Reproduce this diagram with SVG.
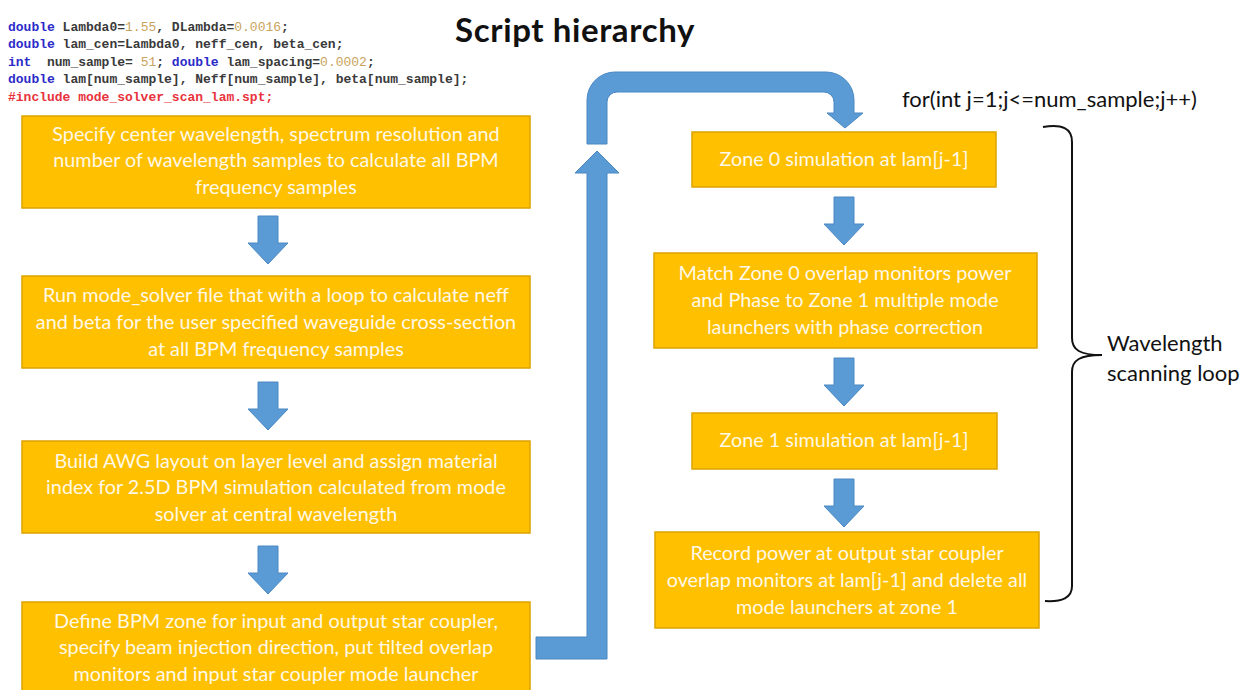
<svg xmlns="http://www.w3.org/2000/svg" width="1244" height="690" viewBox="0 0 1244 690">
  <style>
    .box { fill: #FFC000; stroke: #DDA300; stroke-width: 1.5; }
    .bt { font-family: Lato, "Open Sans", "Liberation Sans", sans-serif; font-size: 19.8px; fill: #FFF8E6; text-anchor: middle; }
    .arrow { fill: #5B9BD5; stroke: #4A88C2; stroke-width: 1; }
    .code { font-family: "Liberation Mono", "DejaVu Sans Mono", monospace; font-size: 13px; font-weight: bold; fill: #3A3A3A; white-space: pre; }
    .kw { fill: #2B2BC8; }
    .num { fill: #C9A45C; font-weight: normal; }
    .inc { fill: #E8333D; }
    .label { font-family: Lato, "Open Sans", "Liberation Sans", sans-serif; font-size: 22px; fill: #111; }
    .title { font-family: Lato, "Open Sans", "Liberation Sans", sans-serif; font-size: 33px; letter-spacing: 0.6px; font-weight: bold; fill: #111; text-anchor: middle; }
    .brace { fill: none; stroke: #111; stroke-width: 2; }
  </style>
  <defs>
    <!-- small downward block arrow, origin at shaft top centre -->
    <path id="down" d="M-10,0 L10,0 L10,27 L20,27 L0,48 L-20,27 L-10,27 Z"/>
  </defs>

  <rect width="1244" height="690" fill="#FFFFFF"/>

  <!-- script header -->
  <g id="code" class="code">
    <text x="8" y="31"><tspan class="kw">double</tspan> Lambda0=<tspan class="num">1.55</tspan>, DLambda=<tspan class="num">0.0016</tspan>;</text>
    <text x="8" y="48"><tspan class="kw">double</tspan> lam_cen=Lambda0, neff_cen, beta_cen;</text>
    <text x="8" y="66" xml:space="preserve"><tspan class="kw">int</tspan>  num_sample= <tspan class="num">51</tspan>; <tspan class="kw">double</tspan> lam_spacing=<tspan class="num">0.0002</tspan>;</text>
    <text x="8" y="83"><tspan class="kw">double</tspan> lam[num_sample], Neff[num_sample], beta[num_sample];</text>
    <text x="8" y="101" class="inc">#include mode_solver_scan_lam.spt;</text>
  </g>

  <text id="title" class="title" x="575" y="42">Script hierarchy</text>

  <!-- connectors -->
  <g id="connectors">
    <use href="#down" class="arrow" x="268" y="216"/>
    <use href="#down" class="arrow" x="268" y="382"/>
    <use href="#down" class="arrow" x="268" y="546"/>
    <use href="#down" class="arrow" x="844" y="197"/>
    <use href="#down" class="arrow" x="844" y="358"/>
    <use href="#down" class="arrow" x="844" y="479"/>
    <!-- elbow arrow leaving the setup column -->
    <path class="arrow" d="M536,637 L587,637 L587,173 L575,173 L597,151 L619,173 L607,173 L607,659 L536,659 Z"/>
    <!-- bent arrow entering the loop -->
    <path class="arrow" d="M587,144 L587,100 A28,28 0 0 1 615,72 L826,72 A28,28 0 0 1 854,100 L854,113 L863,113 L845,128 L827,113 L834,113 L834,102 A10,10 0 0 0 824,92 L617,92 A10,10 0 0 0 607,102 L607,144 Z"/>
  </g>

  <!-- setup column -->
  <g id="step-wavelengths">
    <rect class="box" x="22" y="116" width="508" height="92"/>
    <text class="bt" x="276" y="141">Specify center wavelength, spectrum resolution and</text>
    <text class="bt" x="276" y="167">number of wavelength samples to calculate all BPM</text>
    <text class="bt" x="276" y="194">frequency samples</text>
  </g>
  <g id="step-mode-solver">
    <rect class="box" x="22" y="276" width="508" height="92"/>
    <text class="bt" x="276" y="302">Run mode_solver file that with a loop to calculate neff</text>
    <text class="bt" x="276" y="329">and beta for the user specified waveguide cross-section</text>
    <text class="bt" x="276" y="356">at all BPM frequency samples</text>
  </g>
  <g id="step-layout">
    <rect class="box" x="22" y="441" width="508" height="92"/>
    <text class="bt" x="276" y="468">Build AWG layout on layer level and assign material</text>
    <text class="bt" x="276" y="494">index for 2.5D BPM simulation calculated from mode</text>
    <text class="bt" x="276" y="521">solver at central wavelength</text>
  </g>
  <g id="step-zones">
    <rect class="box" x="22" y="602" width="508" height="92"/>
    <text class="bt" x="276" y="628">Define BPM zone for input and output star coupler,</text>
    <text class="bt" x="276" y="654">specify beam injection direction, put tilted overlap</text>
    <text class="bt" x="276" y="681">monitors and input star coupler mode launcher</text>
  </g>

  <!-- wavelength loop column -->
  <text id="loop-header" class="label" x="902" y="107" font-size="22.3">for(int j=1;j&lt;=num_sample;j++)</text>
  <g id="zone0-sim">
    <rect class="box" x="692" y="132" width="304" height="55"/>
    <text class="bt" x="844" y="166">Zone 0 simulation at lam[j-1]</text>
  </g>
  <g id="match-launchers">
    <rect class="box" x="654" y="253" width="383" height="95"/>
    <text class="bt" x="845" y="280">Match Zone 0 overlap monitors power</text>
    <text class="bt" x="845" y="307">and Phase to Zone 1 multiple mode</text>
    <text class="bt" x="845" y="334">launchers with phase correction</text>
  </g>
  <g id="zone1-sim">
    <rect class="box" x="692" y="413" width="305" height="56"/>
    <text class="bt" x="844" y="447">Zone 1 simulation at lam[j-1]</text>
  </g>
  <g id="record-power">
    <rect class="box" x="655" y="532" width="384" height="96"/>
    <text class="bt" x="847" y="560">Record power at output star coupler</text>
    <text class="bt" x="847" y="587">overlap monitors at lam[j-1] and delete all</text>
    <text class="bt" x="847" y="614">mode launchers at zone 1</text>
  </g>

  <!-- loop brace -->
  <g id="loop-brace">
    <path class="brace" d="M1043,127 C1062,124 1072,128 1072,142 L1072,338 C1072,350 1080,355 1102,355 C1080,355 1072,360 1072,372 L1072,586 C1072,598 1062,602 1045,601"/>
    <text class="label" x="1107" y="351">Wavelength</text>
    <text class="label" x="1107" y="381">scanning loop</text>
  </g>
</svg>
